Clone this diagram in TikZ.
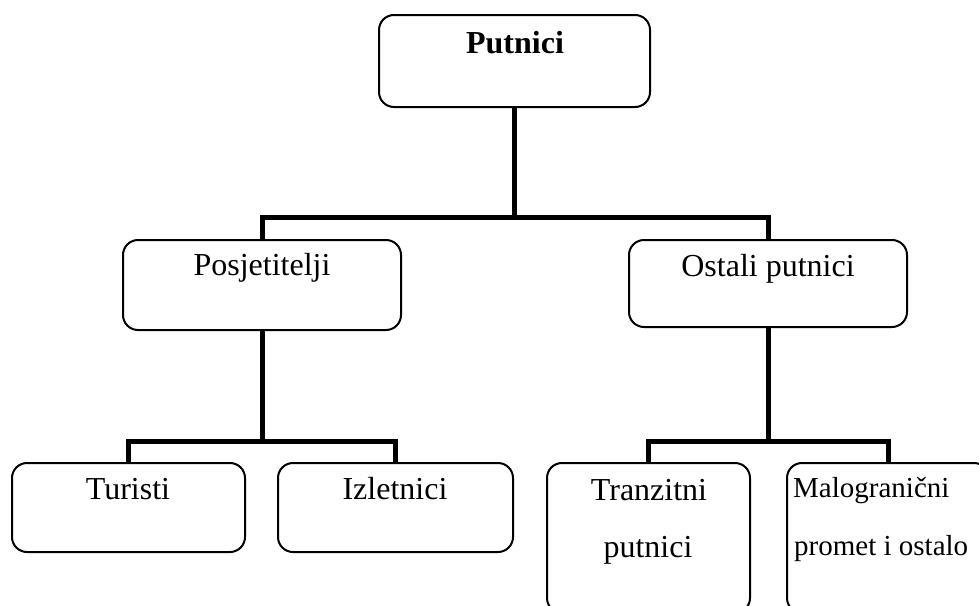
\documentclass[tikz,border=0pt]{standalone}
\usepackage{fontspec}
\setmainfont{Liberation Serif}
\tikzset{
  box/.style={draw, line width=2pt, rounded corners=15pt, inner sep=0pt},
  link/.style={line width=5pt},
  lbl/.style={anchor=base, inner sep=0pt, font=\fontsize{32}{38}\selectfont},
  lblsmall/.style={anchor=base west, inner sep=0pt, font=\fontsize{29}{35}\selectfont}
}
\begin{document}
\begin{tikzpicture}[x=1pt, y=-1pt]
      \useasboundingbox (0,0) rectangle (979,605);

      \node[box, minimum width=271pt, minimum height=92pt] (putnici) at (514.5,61) {};
      \node[box, minimum width=278pt, minimum height=90pt] (posj) at (262,285) {};
      \node[box, minimum width=278pt, minimum height=87pt] (ostali) at (768,283.5) {};
      \node[box, minimum width=233pt, minimum height=89pt] (turisti) at (128.5,507.5) {};
      \node[box, minimum width=235pt, minimum height=89pt] (izlet) at (395.5,507.5) {};
      \node[box, minimum width=203pt, minimum height=150pt] (tranz) at (648.5,538) {};
      \node[box, minimum width=202pt, minimum height=150pt] (malo) at (888,538) {};

      \node[lbl, font=\fontsize{32}{38}\selectfont\bfseries] (t-putnici) at (515,53) {Putnici};
      \node[lbl] (t-posj) at (262,275) {Posjetitelji};
      \node[lbl] (t-ostali) at (768,276) {Ostali putnici};
      \node[lbl] (t-turisti) at (128,499) {Turisti};
      \node[lbl] (t-izlet) at (395,499) {Izletnici};
      \node[lbl] (t-tranz1) at (649,500) {Tranzitni};
      \node[lbl] (t-tranz2) at (648,557) {putnici};
      \node[lblsmall] (t-malo1) at (793,497) {Malogranični};
      \node[lblsmall] (t-malo2) at (794,555) {promet i ostalo};

      \coordinate (bus1) at (514.5,217);
      \coordinate (bus2) at (262,441);
      \coordinate (bus3) at (768,441);

      \draw[link] (putnici.south) -- (bus1);
      \draw[link] (posj.north) |- (bus1) -| (ostali.north);
      \draw[link] (posj.south) -- (bus2);
      \draw[link] (turisti.north) |- (bus2) -| (izlet.north);
      \draw[link] (ostali.south) -- (bus3);
      \draw[link] (tranz.north) |- (bus3) -| (malo.north);
    \end{tikzpicture}
\end{document}
